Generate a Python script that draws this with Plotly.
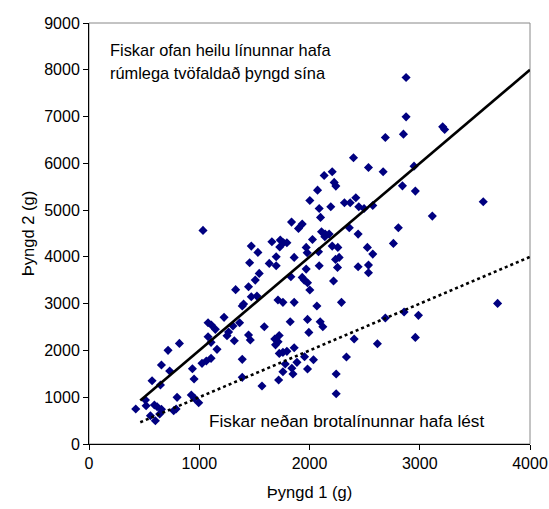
import plotly.graph_objects as go

# Weight of each fish at first and second weighing (grams)
weight_1 = [
    2876, 2876, 2688, 2852, 3208, 3226, 2399, 2535, 2668, 2948,
    2133, 2206, 2224, 2239, 2843, 2960, 2073, 2003, 2193, 2088,
    2317, 2369, 2420, 2447, 2495, 2574, 3576, 3114, 2100, 1837,
    1900, 1934, 2806, 2361, 2109, 2142, 2178, 2139, 2441, 2027,
    1735, 1764, 1795, 1730, 1970, 1979, 2206, 2257, 2525, 2574,
    2761, 2082, 1861, 2236, 2269, 2088, 2254, 1970, 2441, 2535,
    2535, 1831, 1934, 1952, 1982, 2218, 2003, 1759, 1714, 1861,
    2290, 2067, 3706, 2858, 2988, 2688, 1825, 1982, 2097, 2121,
    1994, 2405, 2960, 2616, 1861, 1759, 1795, 1955, 2036, 2335,
    1886, 1780, 1982, 1840, 1850, 1759, 1720, 2242, 2242, 424,
    512, 518, 557, 602, 641, 593, 618, 657, 768, 790,
    572, 648, 657, 717, 732, 820, 799, 938, 953, 928,
    958, 995, 1025, 1064, 1107, 1080, 1107, 1080, 1110, 1146,
    1161, 1225, 1252, 1266, 1318, 1306, 1366, 1390, 1402, 1447,
    1463, 1390, 1390, 1472, 1523, 1330, 1590, 1569, 1725, 1685,
    1715, 1692, 1726, 1034, 1472, 1532, 1457, 1659, 1698, 1635,
    1698, 1544, 1508, 1447,
]
weight_2 = [
    7835, 6994, 6553, 6624, 6780, 6724, 6118, 5912, 5819, 5940,
    5741, 5819, 5592, 5513, 5519, 5406, 5427, 5207, 5071, 5036,
    5157, 5157, 5264, 5071, 5036, 5100, 5178, 4872, 4844, 4744,
    4609, 4701, 4622, 4622, 4536, 4487, 4487, 4430, 4487, 4373,
    4359, 4302, 4302, 4210, 4203, 4088, 4231, 4203, 4203, 4060,
    4288, 4110, 3989, 3946, 3989, 3810, 3775, 3739, 3789, 3825,
    3661, 3575, 3561, 3504, 3447, 3483, 3291, 3028, 3077, 3028,
    3028, 2949, 3006, 2821, 2750, 2692, 2614, 2664, 2614, 2507,
    2386, 2244, 2279, 2143, 2058, 1959, 1981, 1865, 1801, 1859,
    1746, 1709, 1603, 1618, 1496, 1545, 1368, 1496, 1075, 748,
    940, 818, 605, 498, 641, 833, 797, 741, 712, 748,
    1353, 1261, 1688, 2002, 1560, 2151, 997, 1610, 1389, 1047,
    976, 883, 1724, 1774, 1831, 2293, 2173, 2592, 2543, 2451,
    2023, 2707, 2314, 2393, 2207, 2521, 2592, 2949, 2991, 2329,
    2222, 1810, 1425, 3148, 3162, 3300, 2507, 1239, 2320, 2245,
    2186, 2120, 1937, 4566, 4231, 4096, 3874, 4323, 4002, 3861,
    3810, 3647, 3504, 3361,
]

# Reference lines: doubled weight (solid) and unchanged weight (dotted)
line_x = [465, 4000]
doubled_y = [2 * v for v in line_x]
same_y = list(line_x)

x_ticks = [0, 1000, 2000, 3000, 4000]
y_ticks = [0, 1000, 2000, 3000, 4000, 5000, 6000, 7000, 8000, 9000]

font_family = "Arial, Liberation Sans, sans-serif"

fig = go.Figure()
fig.add_trace(go.Scatter(
    x=weight_1, y=weight_2, mode="markers",
    marker=dict(symbol="diamond", size=7, color="#000080", line=dict(width=0)),
    showlegend=False, hoverinfo="x+y",
))
fig.add_trace(go.Scatter(
    x=line_x, y=doubled_y, mode="lines",
    line=dict(color="black", width=2.6),
    showlegend=False, hoverinfo="skip",
))
fig.add_trace(go.Scatter(
    x=line_x, y=same_y, mode="lines",
    line=dict(color="black", width=2.6, dash="3px,3px"),
    showlegend=False, hoverinfo="skip",
))

axis_common = dict(
    showgrid=False, zeroline=False, automargin=False,
    showline=True, linecolor="black", linewidth=1,
    ticks="outside", ticklen=5, tickwidth=1, tickcolor="black",
    tickfont=dict(family=font_family, size=16, color="black"),
)

title_font = dict(family=font_family, size=16.5, color="black")

fig.update_xaxes(
    range=[0, 4000], tickvals=x_ticks, ticktext=[str(v) for v in x_ticks],
    title=dict(text="Þyngd 1 (g)", font=title_font, standoff=15),
    **axis_common,
)
fig.update_yaxes(
    range=[0, 9000], tickvals=y_ticks, ticktext=[str(v) for v in y_ticks],
    title=dict(text="Þyngd 2 (g)", font=title_font, standoff=5),
    **axis_common,
)

# Plot-area frame (light grey on top and right)
fig.add_shape(type="rect", xref="paper", yref="paper", x0=0, y0=0, x1=1, y1=1,
              line=dict(color="#888888", width=1), layer="below")

top_font = dict(family=font_family, size=16.4, color="black")
bottom_font = dict(family=font_family, size=17.2, color="black")
fig.add_annotation(xref="paper", yref="paper", x=0.043, y=0.935,
                   text="Fiskar ofan heilu línunnar hafa", showarrow=False,
                   xanchor="left", yanchor="middle", font=top_font)
fig.add_annotation(xref="paper", yref="paper", x=0.043, y=0.882,
                   text="rúmlega tvöfaldað þyngd sína", showarrow=False,
                   xanchor="left", yanchor="middle", font=top_font)
fig.add_annotation(xref="paper", yref="paper", x=0.268, y=0.054,
                   text="Fiskar neðan brotalínunnar hafa lést", showarrow=False,
                   xanchor="left", yanchor="middle", font=bottom_font)

fig.update_layout(
    width=549, height=509,
    margin=dict(l=89, r=19, t=23, b=65),
    paper_bgcolor="white", plot_bgcolor="white",
    font=dict(family=font_family, color="black"),
)

fig.write_html("out.html")
